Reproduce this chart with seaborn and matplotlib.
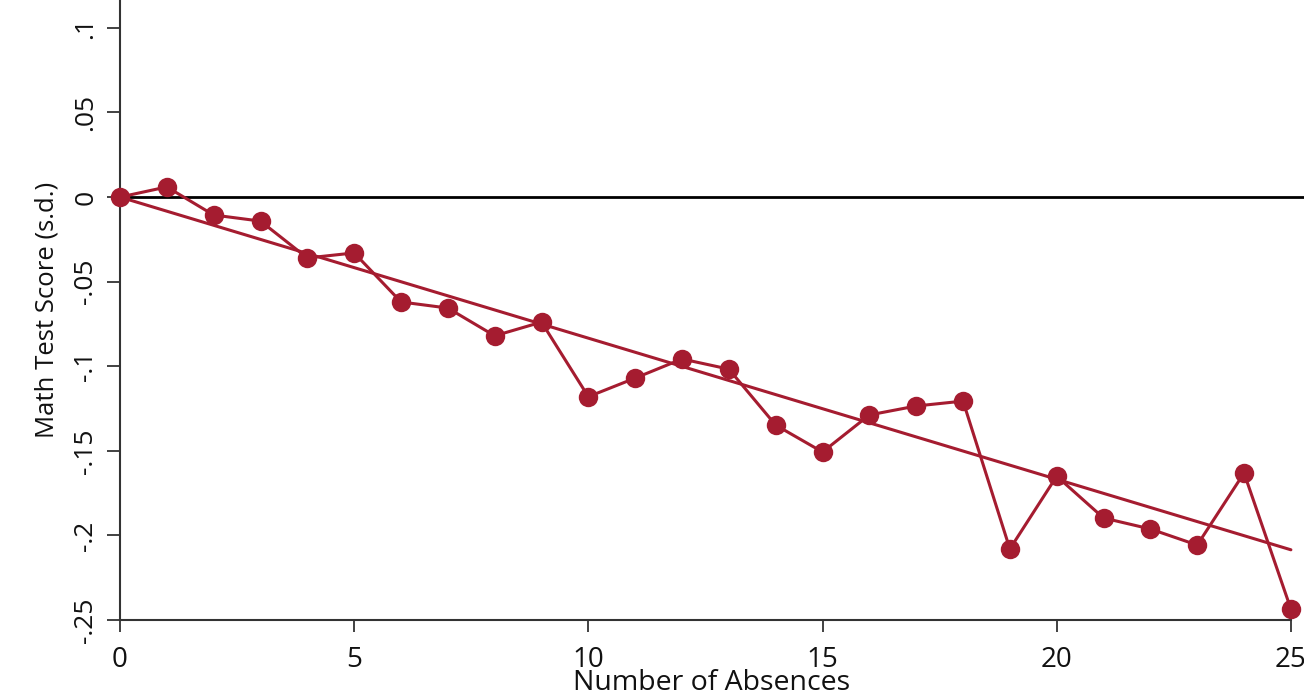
import numpy as np
import pandas as pd
import matplotlib
matplotlib.use("Agg")
import matplotlib.pyplot as plt
import seaborn as sns

absences = list(range(26))
scores = [0.0, 0.006, -0.0106, -0.0142, -0.036, -0.033, -0.062, -0.0656, -0.082, -0.0739,
          -0.118, -0.107, -0.0957, -0.1017, -0.1348, -0.1507, -0.1288, -0.1235, -0.1206, -0.208,
          -0.165, -0.1897, -0.1962, -0.2057, -0.1631, -0.2435]
fit_x = [0, 25]
fit_y = [0.0, -0.2085]
xticks = [0, 5, 10, 15, 20, 25]
yticks = [-0.25, -0.2, -0.15, -0.1, -0.05, 0, 0.05, 0.1]
ytick_labels = ["-.25", "-.2", "-.15", "-.1", "-.05", "0", ".05", ".1"]

df = pd.DataFrame({"absences": absences, "score": scores})
fit = pd.DataFrame({"absences": fit_x, "score": fit_y})

sns.set_theme(style="white")
plt.rcParams['font.family'] = ['Open Sans', 'DejaVu Sans']

RED = "#A51C30"
fig = plt.figure(figsize=(13.04, 6.94), dpi=100)
ax = fig.add_axes([120 / 1304, 74 / 694, 1 - 120 / 1304, 620 / 694])

ax.axhline(0, color="black", lw=2, zorder=1)
sns.lineplot(data=fit, x="absences", y="score", ax=ax, color=RED, lw=2.2, zorder=2)
sns.lineplot(data=df, x="absences", y="score", ax=ax, color=RED, lw=2.2,
             marker="o", markersize=14, markeredgewidth=0, zorder=3, clip_on=False)

ax.set_xlim(0, 25.28)
ax.set_ylim(-0.25, 0.1165)
ax.set_xticks(xticks)
ax.set_xticklabels([str(t) for t in xticks], fontsize=20)
ax.set_yticks(yticks)
ax.set_yticklabels(ytick_labels, fontsize=19, rotation=90, va="center")

for s in ["top", "right"]:
    ax.spines[s].set_visible(False)
for s in ["left", "bottom"]:
    ax.spines[s].set_color("#333333")
    ax.spines[s].set_linewidth(1.5)
ax.spines["bottom"].set_bounds(0, 25)
ax.tick_params(axis="both", which="major", direction="out", bottom=True, left=True,
               length=9.5, width=1.3, color="#333333", labelcolor="#111111", pad=6)
ax.tick_params(axis="x", length=8.5, pad=10)

ax.set_xlabel("Number of Absences", fontsize=20.5, labelpad=-3.5, color="#111111")
ax.set_ylabel("Math Test Score (s.d.)", fontsize=18.5, labelpad=10, color="#111111")
ax.grid(False)

fig.savefig("out.png", dpi=100)
